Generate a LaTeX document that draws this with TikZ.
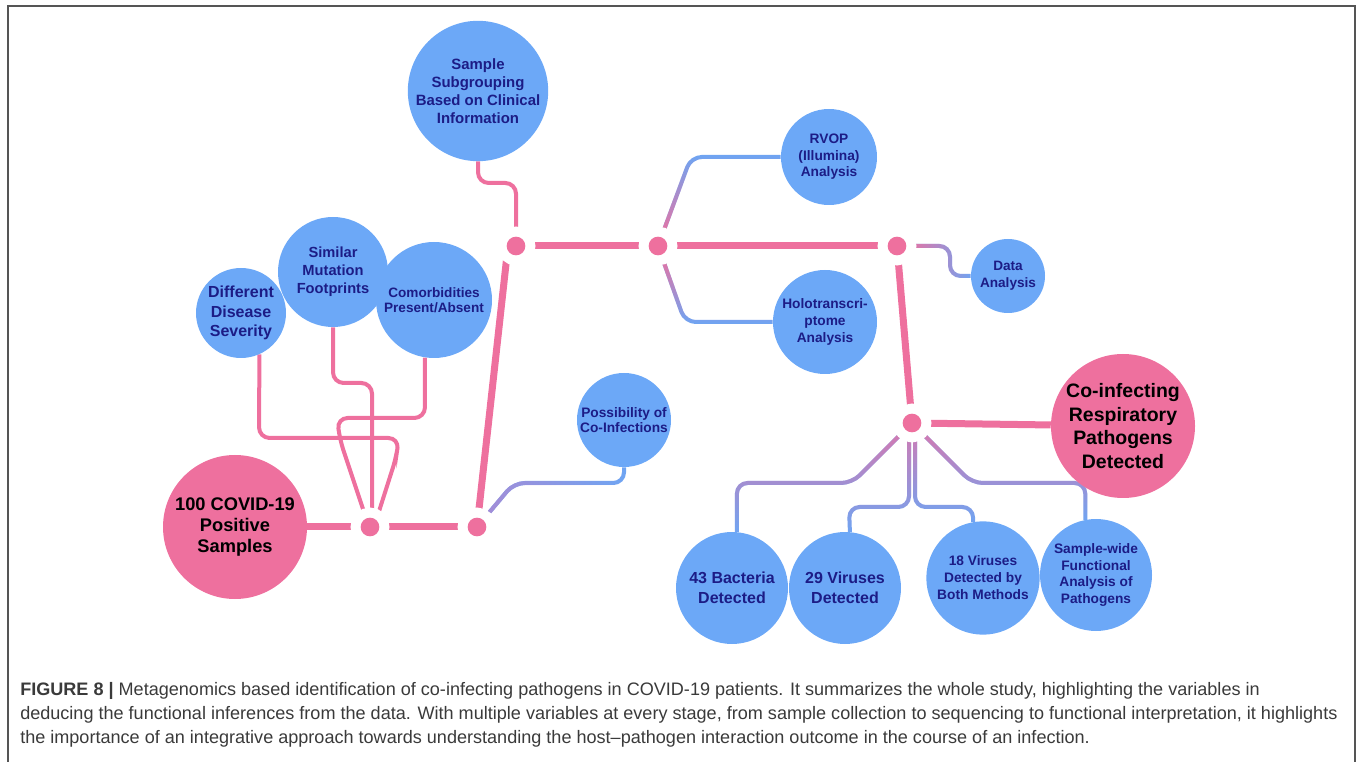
\documentclass[tikz,border=0pt]{standalone}
\usepackage{fontspec}
\setmainfont{Liberation Sans}
\usetikzlibrary{fadings,calc,backgrounds}

\definecolor{bubfill}{HTML}{6CA8F7}
\definecolor{ink}{HTML}{1C1C86}
\definecolor{rose}{HTML}{EE709E}
\definecolor{lilac}{HTML}{A58CD6}
\definecolor{wireblue}{HTML}{6FA5F3}
\definecolor{framegray}{HTML}{555555}
\definecolor{captext}{HTML}{3A3A3A}

\newcommand\setfz[2]{\fontsize{#1}{#2}\selectfont}

% fadings used to blend pink connectors into blue ones
\tikzfading[name=fadeN, top color=transparent!100, bottom color=transparent!0]
\tikzfading[name=fadeS, top color=transparent!0, bottom color=transparent!100]
\tikzfading[name=fadeE, left color=transparent!0, right color=transparent!100]

\tikzset{
  bub/.style={circle, fill=bubfill, text=ink, align=center, inner sep=0pt},
  pinkbub/.style={circle, fill=rose, text=black, align=center, inner sep=0pt},
  sz/.style 2 args={font=\bfseries\setfz{#1}{#2}},
  hub/.style={circle, fill=rose, inner sep=0pt, minimum size=14pt,
              preaction={draw=white, line width=15pt}},
  trunk/.style={draw=rose, line width=5.25pt},
  twig/.style={draw=rose, line width=3pt, rounded corners=8pt},
  wire/.style={draw=wireblue, line width=3pt, rounded corners=8pt},
  blend/.style={line width=3pt, rounded corners=8pt},
  captxt/.style={text=captext, inner sep=0pt, font=\setfz{13.55pt}{16pt}},
}

\begin{document}
\begin{tikzpicture}[x=0.75pt, y=-0.75pt]
\useasboundingbox (0,0) rectangle (1360,762);

% outer frame
\draw[framegray, line width=1.5pt] (8,762) -- (8,6) -- (1355,6) -- (1355,762);

% bubbles
\node[bub, sz={11.2pt}{13.5pt}, minimum size=102pt] (sub) at (478,91)
  {Sample\\Subgrouping\\Based on Clinical\\Information};
\node[bub, sz={11pt}{13.5pt}, minimum size=82.5pt] (sim) at (333,272)
  {Similar\\Mutation\\Footprints};
\node[bub, sz={12pt}{14.6pt}, minimum size=67.5pt] (dif) at (241,313)
  {Different\\Disease\\Severity};
\node[bub, sz={10.2pt}{11.6pt}, minimum size=87pt] (com) at (434,300)
  {Comorbidities\\Present/Absent};
\node[pinkbub, sz={13.7pt}{16.1pt}, minimum size=108pt] (cov) at (235,527)
  {100 COVID-19\\Positive\\Samples};
\node[bub, sz={10.3pt}{12.4pt}, minimum size=72pt] (rvop) at (829,157)
  {RVOP\\(Illumina)\\Analysis};
\node[bub, sz={10.3pt}{12.6pt}, minimum size=78pt] (holo) at (825,322)
  {Holotranscri-\\ptome\\Analysis};
\node[bub, sz={10.2pt}{12.6pt}, minimum size=55.5pt] (data) at (1008,276)
  {Data\\Analysis};
\node[bub, sz={10.3pt}{11.6pt}, minimum size=70.5pt] (poss) at (624,420)
  {Possibility of\\Co-Infections};
\node[pinkbub, sz={14.6pt}{17.6pt}, minimum size=108pt] (coi) at (1123,426)
  {Co-infecting\\Respiratory\\Pathogens\\Detected};
\node[bub, sz={12pt}{15pt}, minimum size=84pt] (bac) at (732,588)
  {43 Bacteria\\Detected};
\node[bub, sz={12pt}{15pt}, minimum size=84pt] (v29) at (845,588)
  {29 Viruses\\Detected};
\node[bub, sz={10.3pt}{12.8pt}, minimum size=85pt] (v18) at (983,578)
  {18 Viruses\\Detected by\\Both Methods};
\node[bub, sz={10.3pt}{12.6pt}, minimum size=84pt] (swf) at (1096,575)
  {Sample-wide\\Functional\\Analysis of\\Pathogens};

% junction hubs
\node[hub] (d1) at (370,527) {};
\node[hub] (d2) at (477,527) {};
\node[hub] (d3) at (516,246) {};
\node[hub] (d4) at (658,246) {};
\node[hub] (d5) at (897,246) {};
\node[hub] (d6) at (912,423) {};

\begin{scope}[on background layer]
  % main trunk
  \draw[trunk] (cov) -- (d1);
  \draw[trunk] (d1) -- (d2);
  \draw[trunk] (d2) -- ($(d3)+(-8,0)$);
  \draw[trunk] (d3) -- (d4);
  \draw[trunk] (d4) -- (d5);
  \draw[trunk] (d5) -- (d6);
  \draw[trunk] (d6) -- (coi);

  % sample grouping branches
  \draw[twig] (sub.south) -- (478,183) -- (516,183) -- (d3);
  \draw[twig] (dif.-66) -- (259,438) -- (399,438) -- (396,458) -- ($(d1)+(4,0)$);
  \draw[twig] (sim.south) -- (333,383) -- (372,383) -- ($(d1)+(2,0)$);
  \draw[twig] (com.-99) -- (425,418) -- (337,418) -- (340,440) -- ($(d1)+(-1,0)$);

  % blended branches
  \draw[wire] (d2) -- (514,483) -| (poss.south);
  \draw[blend, lilac, path fading=fadeE] (d2) -- (514,483) -| (poss.south);

  \draw[wire] (d4) -- (691,157) -- (rvop.west);
  \draw[blend, rose, path fading=fadeN] (d4) -- (691,157) -- (rvop.west);

  \draw[wire] (d4) -- (685,322) -- (holo.west);
  \draw[blend, rose, path fading=fadeS] (d4) -- (685,322) -- (holo.west);

  \draw[wire] (d5) -- (950,246) -- (950,276) -- (data.west);
  \draw[blend, rose, path fading=fadeE] (d5) -- (950,246) -- (950,276) -- (data.west);

  \draw[wire] (d6) -- (852,483) -| (bac.85);
  \draw[blend, rose!70!lilac, path fading=fadeS] (d6) -- (852,483) -| (bac.85);
  \draw[wire] ($(d6)+(-3,0)$) |- (849,507) -- (v29.85);
  \draw[blend, rose!70!lilac, path fading=fadeS] ($(d6)+(-3,0)$) |- (849,507) -- (v29.85);
  \draw[wire] ($(d6)+(3,0)$) |- (973,507) -- (v18.100);
  \draw[blend, rose!70!lilac, path fading=fadeS] ($(d6)+(3,0)$) |- (973,507) -- (v18.100);
  \draw[wire] (d6) -- (972,483) -| (swf.101);
  \draw[blend, rose!70!lilac, path fading=fadeS] (d6) -- (972,483) -| (swf.101);
\end{scope}

% caption
\node[captxt, anchor=base west] (c1) at (20,695)
  {\textbf{FIGURE 8 |} Metagenomics based identification of co-infecting pathogens in COVID-19 patients. It summarizes the whole study, highlighting the variables in};
\node[captxt, anchor=base west] (c2) at (20,719)
  {deducing the functional inferences from the data. With multiple variables at every stage, from sample collection to sequencing to functional interpretation, it highlights};
\node[captxt, anchor=base west] (c3) at (20,743)
  {the importance of an integrative approach towards understanding the host--pathogen interaction outcome in the course of an infection.};
\end{tikzpicture}
\end{document}
